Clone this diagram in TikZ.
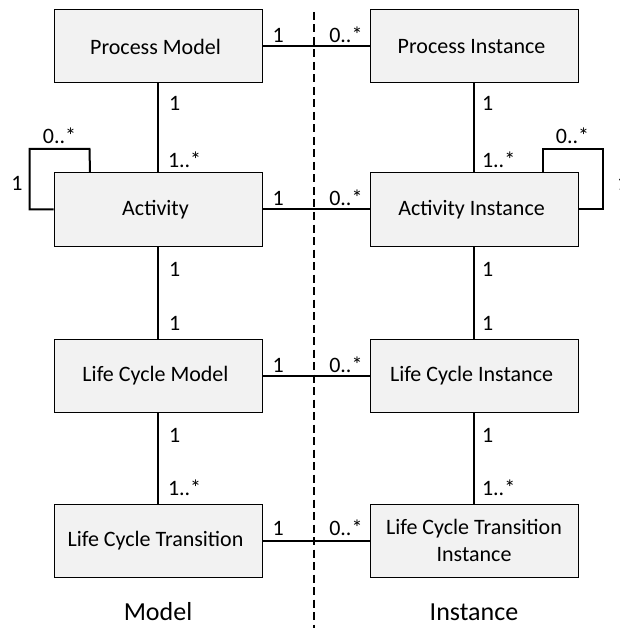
\documentclass[tikz,border=0pt]{standalone}
\usepackage{fontspec}
\setmainfont{Carlito}
\usepackage{tikz}
\usetikzlibrary{calc,positioning}
\usepackage{xcolor}
\definecolor{boxfill}{HTML}{F2F2F2}

\tikzset{
    entity/.style={rectangle,draw=black,line width=1pt,fill=boxfill,minimum width=208pt,minimum height=73pt,align=center,inner sep=2pt,font=\fontsize{22pt}{26.5pt}\selectfont},
    assoc/.style={draw=black,line width=2pt},
    mult/.style={inner sep=0pt,font=\fontsize{22pt}{26.5pt}\selectfont},
    divider/.style={draw=black,line width=1.2pt,dash pattern=on 8pt off 4.5pt},
    side/.style={inner sep=0pt,font=\fontsize{26pt}{30pt}\selectfont}
}

\begin{document}
\begin{tikzpicture}
    \useasboundingbox (0,0) rectangle (619pt,-628pt);

    \node (pm) [entity] at (158pt,-46.5pt) { Process Model };
    \node (pmi) [entity,right=107pt of pm] { Process Instance };

    \node (act) [entity,below=89pt of pm] { Activity };
    \node (aci) [entity,right=107pt of act] { Activity Instance };

    \node (lcm) [entity,below=92pt of act] { Life Cycle Model };
    \node (lci) [entity,right=107pt of lcm] { Life Cycle Instance };

    \node (lct) [entity,below=91pt of lcm] { Life Cycle Transition };
    \node (lcti) [entity,right=107pt of lct] { Life Cycle Transition\\Instance };

    \node (mlabel) [side,below=43pt of lct.south,anchor=base] { Model };
    \node (ilabel) [side,below=43pt of lcti.south,anchor=base] { Instance };

    \coordinate (divtop) at (314pt,-12pt);
    \coordinate (divbot) at (314pt,-628pt);
    % Divider
    \draw[divider] (divtop) -- (divbot);

    % Model to instance
    \draw[assoc] (pm) -- (pmi)
        node[mult,pos=0,anchor=base west,xshift=9pt,yshift=4pt] {1}
        node[mult,pos=1,anchor=base east,xshift=-6pt,yshift=4pt] {0..*};
    \draw[assoc] (act) -- (aci)
        node[mult,pos=0,anchor=base west,xshift=9pt,yshift=4pt] {1}
        node[mult,pos=1,anchor=base east,xshift=-6pt,yshift=4pt] {0..*};
    \draw[assoc] (lcm) -- (lci)
        node[mult,pos=0,anchor=base west,xshift=9pt,yshift=3pt] {1}
        node[mult,pos=1,anchor=base east,xshift=-6pt,yshift=3pt] {0..*};
    \draw[assoc] (lct) -- (lcti)
        node[mult,pos=0,anchor=base west,xshift=9pt,yshift=5pt] {1}
        node[mult,pos=1,anchor=base east,xshift=-6pt,yshift=5pt] {0..*};

    % Model column
    \draw[assoc] (pm) -- (act)
        node[mult,pos=0,anchor=north west,xshift=10pt,yshift=-12pt] {1}
        node[mult,pos=1,anchor=base west,xshift=9pt,yshift=5pt] {1..*};
    \draw[assoc] (act) -- (lcm)
        node[mult,pos=0,anchor=north west,xshift=10pt,yshift=-15pt] {1}
        node[mult,pos=1,anchor=base west,xshift=10pt,yshift=8pt] {1};
    \draw[assoc] (lcm) -- (lct)
        node[mult,pos=0,anchor=north west,xshift=10pt,yshift=-15pt] {1}
        node[mult,pos=1,anchor=base west,xshift=9pt,yshift=8pt] {1..*};

    % Instance column
    \draw[assoc] (pmi) -- (aci)
        node[mult,pos=0,anchor=north west,xshift=7pt,yshift=-12pt] {1}
        node[mult,pos=1,anchor=base west,xshift=7pt,yshift=5pt] {1..*};
    \draw[assoc] (aci) -- (lci)
        node[mult,pos=0,anchor=north west,xshift=7pt,yshift=-15pt] {1}
        node[mult,pos=1,anchor=base west,xshift=7pt,yshift=8pt] {1};
    \draw[assoc] (lci) -- (lcti)
        node[mult,pos=0,anchor=north west,xshift=7pt,yshift=-15pt] {1}
        node[mult,pos=1,anchor=base west,xshift=7pt,yshift=8pt] {1..*};

    % Self loops
    \draw[assoc] (act.west) -- ++(-24pt,0)
        node[mult,anchor=base east,xshift=-6pt,yshift=18.5pt] {1}
        -- ++(0,60.5pt) -- ++(60pt,0)
        node[mult,midway,anchor=base,yshift=5pt] {0..*}
        -- ($(act.north west)+(36.5pt,0)$);
    \draw[assoc] (aci.east) -- ++(24pt,0)
        node[mult,anchor=base west,xshift=13.5pt,yshift=18.5pt] {1}
        -- ++(0,60.5pt) -- ++(-60pt,0)
        node[mult,midway,anchor=base,yshift=5pt] {0..*}
        -- ($(aci.north east)+(-36pt,0)$);

\end{tikzpicture}
\end{document}
